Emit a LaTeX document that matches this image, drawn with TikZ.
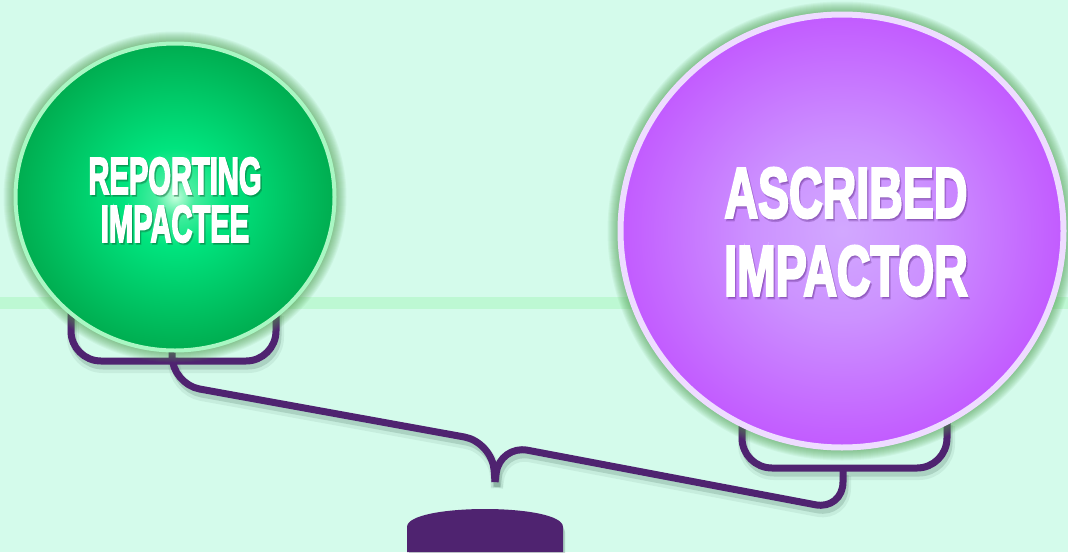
\documentclass[tikz,border=0pt]{standalone}
\usepackage{fontspec}
\setmainfont{Liberation Sans}
\newfontfamily\heavyfont[FakeBold=4]{Liberation Sans Bold}
\usetikzlibrary{shapes.geometric}
\definecolor{bgmint}{HTML}{D4FBEB}
\definecolor{bandgreen}{HTML}{BDF8D3}
\definecolor{beampurple}{HTML}{4F2370}
\definecolor{beamshade}{HTML}{4E7466}
\definecolor{glowgreen}{HTML}{4F9E4F}
\definecolor{rimgreen}{HTML}{A9F7C3}
\definecolor{rimlilac}{HTML}{EEDCFF}
\definecolor{gcore}{HTML}{C6FFDD}
\definecolor{gmid}{HTML}{00E47E}
\definecolor{gedge}{HTML}{00AD50}
\definecolor{pcore}{HTML}{D2A8FF}
\definecolor{pmid}{HTML}{CC92FF}
\definecolor{pedge}{HTML}{C25BFF}
\definecolor{greenshade}{HTML}{0F5A32}
\definecolor{purpleshade}{HTML}{5A2482}
\pgfdeclareradialshading{greenball}{\pgfpoint{0bp}{0bp}}{color(0bp)=(gcore); color(3bp)=(gmid!65!gcore); color(8bp)=(gmid); color(25bp)=(gedge); color(50bp)=(gedge)}
\pgfdeclareradialshading{purpleball}{\pgfpoint{0bp}{0bp}}{color(0bp)=(pcore); color(10bp)=(pmid); color(25bp)=(pedge); color(50bp)=(pedge)}
\tikzset{
  beamblur/.style={draw=beamshade, fill=beamshade, opacity=.10, line width=12pt, transform canvas={shift={(2pt,-6pt)}}},
  beamshadow/.style={draw=beamshade, fill=beamshade, opacity=.22, line width=7pt, transform canvas={shift={(2pt,-5pt)}}},
  beamline/.style={draw=beampurple, fill=beampurple, line width=7pt},
  impacteetext/.style={font=\heavyfont\fontsize{52}{48}\selectfont, align=center, xscale=.56, inner sep=0pt},
  impactortext/.style={font=\heavyfont\fontsize{71}{78}\selectfont, align=center, xscale=.655, inner sep=0pt}
}
\begin{document}
\begin{tikzpicture}[x=1pt, y=-1pt]
\useasboundingbox[fill=bgmint] (0,0) rectangle (1068,552);
\fill[bandgreen] (0,297) rectangle (1068,309);

% key points of the scale
\coordinate (impacteeC) at (175,197);
\coordinate (impactorC) at (842,231);
\coordinate (lbTopL) at (71,310);
\coordinate (lbBotL) at (71,361);
\coordinate (lbBotR) at (276,361);
\coordinate (lbTopR) at (276,310);
\coordinate (rbTopL) at (742,420);
\coordinate (rbBotL) at (742,468);
\coordinate (rbBotR) at (947,468);
\coordinate (rbTopR) at (947,420);
\coordinate (lbStem) at (172,352);
\coordinate (kneeL) at (172,384);
\coordinate (dipL) at (492,442);
\coordinate (pivot) at (495,482);
\coordinate (dipR) at (500,445);
\coordinate (kneeR) at (843,510);
\coordinate (rbStem) at (843,470);

% beam, brackets and base (shadow passes first)
\foreach \look in {beamblur, beamshadow, beamline} {
  \begin{scope}[\look]
    \draw[rounded corners=30pt] (lbTopL) -- (lbBotL) -- (lbBotR) -- (lbTopR);
    \draw[rounded corners=30pt] (rbTopL) -- (rbBotL) -- (rbBotR) -- (rbTopR);
    \draw[rounded corners=28pt] (lbStem) -- (kneeL) -- (dipL) -- (pivot);
    \draw[rounded corners=28pt] (pivot) -- (dipR) -- (kneeR) -- (rbStem);
    \fill (407,552) -- (407,527) .. controls (407,503) and (563,503) .. (563,527) -- (563,552) -- cycle;
  \end{scope}
}

% soft glow round the two weights
\foreach \r in {1,...,10} {
  \fill[glowgreen, opacity=.07] (impacteeC) ellipse ({161.5+\r} and {155.5+\r});
  \fill[glowgreen, opacity=.07] (impactorC) ellipse ({224.5+\r} and {219.5+\r});
}

\node[ellipse, draw=rimgreen, line width=4pt, shading=greenball, minimum width=319pt, minimum height=307pt, inner sep=0pt] (impactee) at (impacteeC) {};
\node[ellipse, draw=rimlilac, line width=6pt, shading=purpleball, minimum width=443pt, minimum height=433pt, inner sep=0pt] (impactor) at (impactorC) {};

% labels with a soft shadow
\coordinate (impacteeT) at (175,200);
\coordinate (impactorT) at (846,232);
\node[impacteetext, text=greenshade, opacity=.3] (impacteeShade) at ([shift={(1.5,2)}]impacteeT) {REPORTING\\IMPACTEE};
\node[impactortext, text=purpleshade, opacity=.3] (impactorShade) at ([shift={(1.5,2.5)}]impactorT) {ASCRIBED\\IMPACTOR};
\node[impacteetext, text=white] (impacteeLabel) at (impacteeT) {REPORTING\\IMPACTEE};
\node[impactortext, text=white] (impactorLabel) at (impactorT) {ASCRIBED\\IMPACTOR};
\end{tikzpicture}
\end{document}
